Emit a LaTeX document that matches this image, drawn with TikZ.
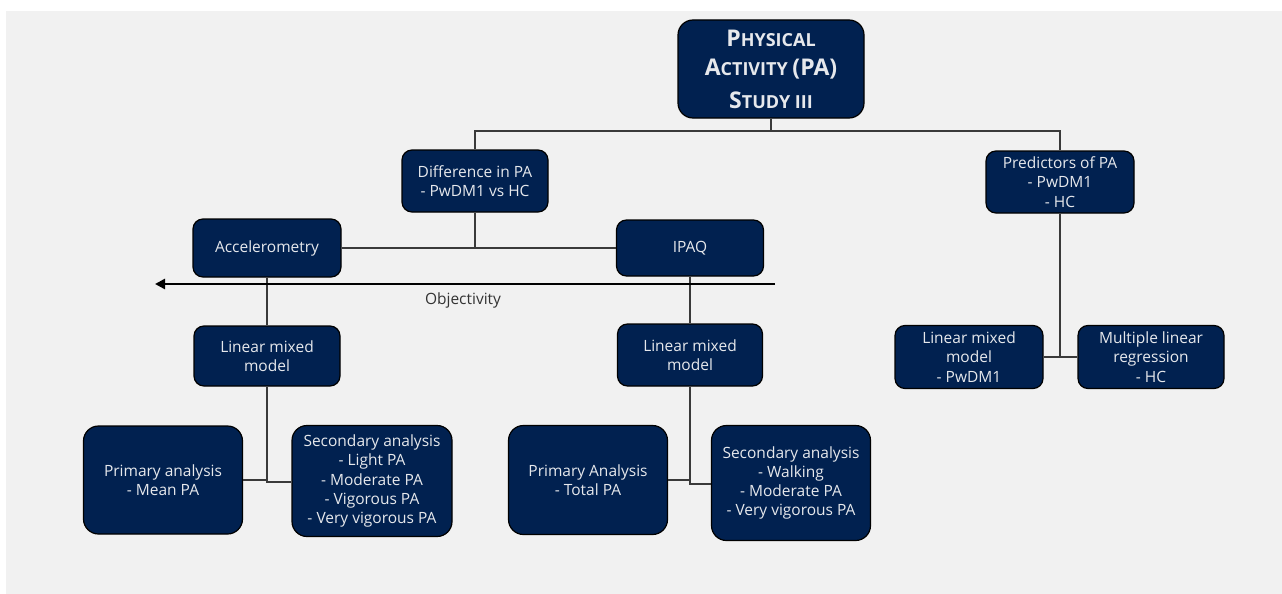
\documentclass[tikz,border=0pt]{standalone}
\usepackage{fontspec}
\setmainfont{Open Sans}
\usetikzlibrary{arrows.meta}
\definecolor{navy}{HTML}{012150}
\definecolor{boxtext}{HTML}{E6E8EC}
\definecolor{wirecol}{HTML}{3A3A3A}
\definecolor{canvas}{HTML}{F1F1F1}
% capitals of the title, set larger than the small capitals around them
\newcommand\capbig[1]{{\fontsize{23}{29}\selectfont #1}}
\begin{document}
\begin{tikzpicture}[x=1pt,y=-1pt,
  box/.style={draw=black, line width=1.2pt, fill=navy, rounded corners=10pt,
    text=boxtext, align=center, inner sep=0pt,
    font=\fontsize{15.5}{19.3}\selectfont},
  wire/.style={draw=wirecol, line width=1.3pt}]
\useasboundingbox (0,0) rectangle (1282,594);
\fill[white] (0,0) rectangle (1282,594);
\fill[canvas] (6,11) rectangle (1282,594);

% title
\node[box, rounded corners=15pt, minimum width=186pt, minimum height=98pt,
  font=\fontsize{18}{29}\selectfont\bfseries] (title) at (771,69)
  {\capbig{P}HYSICAL\\ \capbig{A}CTIVITY \capbig{(PA)}\\[4pt] \capbig{S}TUDY III};

% second level
\node[box, minimum width=146pt, minimum height=62pt] (diff) at (475,181)
  {Difference in PA\\- PwDM1 vs HC};
\node[box, minimum width=148pt, minimum height=62pt] (pred) at (1060,182)
  {Predictors of PA\\- PwDM1\\- HC};

% measurement methods
\node[box, minimum width=148pt, minimum height=58pt] (acc) at (267,248) {Accelerometry};
\node[box, minimum width=147pt, minimum height=56pt] (ipaq) at (690,248) {IPAQ};

% models
\node[box, minimum width=146pt, minimum height=60pt] (lmmL) at (267,356)
  {Linear mixed\\model};
\node[box, minimum width=145pt, minimum height=62pt] (lmmM) at (690,355)
  {Linear mixed\\model};
\node[box, minimum width=148pt, minimum height=63pt] (lmmR) at (969,357)
  {Linear mixed\\model\\- PwDM1};
\node[box, minimum width=146pt, minimum height=63pt] (mlr) at (1151,357)
  {Multiple linear\\regression\\- HC};

% analyses
\node[box, rounded corners=15pt, minimum width=159pt, minimum height=108pt] (primL) at (163,480)
  {Primary analysis\\- Mean PA};
\node[box, rounded corners=15pt, minimum width=160pt, minimum height=111pt] (secL) at (372,481)
  {Secondary analysis\\- Light PA\\- Moderate PA\\- Vigorous PA\\- Very vigorous PA};
\node[box, rounded corners=15pt, minimum width=159pt, minimum height=109pt] (primM) at (588,480)
  {Primary Analysis\\- Total PA};
\node[box, rounded corners=15pt, minimum width=159pt, minimum height=115pt] (secM) at (791,483)
  {Secondary analysis\\- Walking\\- Moderate PA\\- Very vigorous PA};

% connectors
\coordinate (tj) at (771,131);
\draw[wire] (title.south) -- (tj);
\draw[wire] (diff.north) |- (tj) -| (pred.north);
\draw[wire] (acc.east) -- (ipaq.west);
\draw[wire] (diff.south) -- (diff.south |- acc.east);
\draw[wire] (acc.south) -- (lmmL.north);
\draw[wire] (ipaq.south) -- (lmmM.north);
\coordinate (jL) at (267,482);
\draw[wire] (lmmL.south) -- (jL) -- (secL.west |- jL);
\draw[wire] (primL.east) -| (jL);
\coordinate (jM) at (690,484);
\draw[wire] (lmmM.south) -- (jM) -- (secM.west |- jM);
\draw[wire] (primM.east) -| (jM);
\draw[wire] (pred.south) -- (pred.south |- lmmR.east);
\draw[wire] (lmmR.east) -- (mlr.west);

% objectivity axis
\coordinate (objR) at (775,284);
\coordinate (objL) at (155,284);
\draw[line width=2.6pt, -{Triangle[length=10pt,width=10pt]}] (objR) -- (objL);
\node[font=\fontsize{15.5}{19}\selectfont, text=black!80] (obj) at (463,300) {Objectivity};
\end{tikzpicture}
\end{document}
